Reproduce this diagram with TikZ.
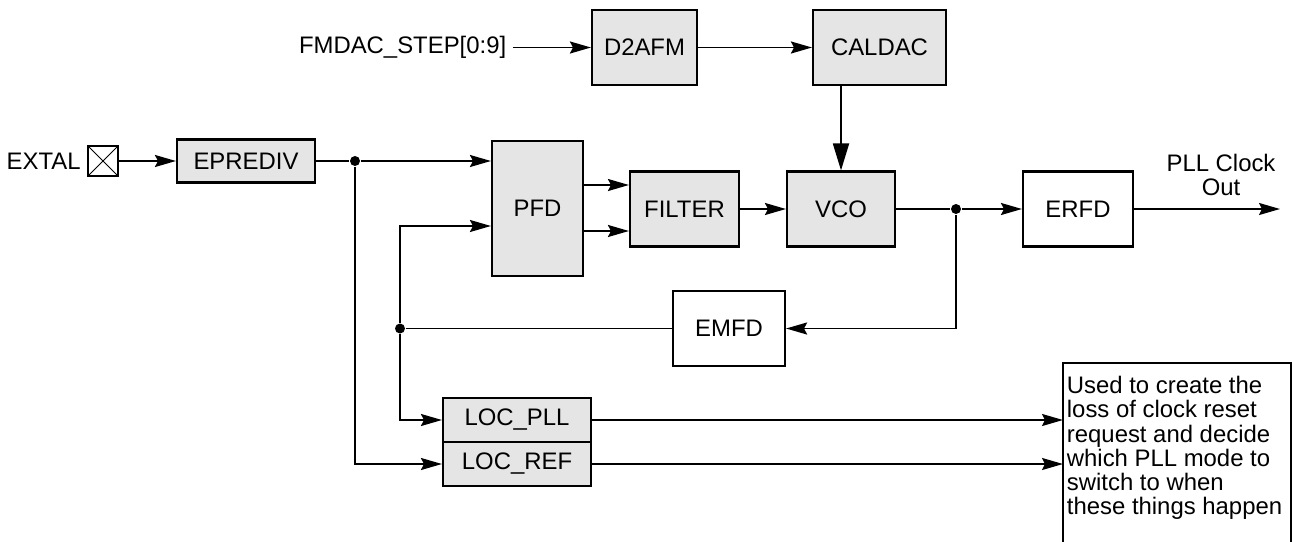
\documentclass[tikz,border=0pt]{standalone}
\usepackage{fontspec}
\setmainfont{Liberation Sans}
\usepackage{xcolor}
\definecolor{grisbloc}{HTML}{E5E5E5}
\usetikzlibrary{positioning, arrows.meta}

\begin{document}
\begin{tikzpicture}[x=0.02cm, y=-0.02cm, line width=1.05pt,
      font=\fontsize{13.6}{13.8}\selectfont,
      bloc/.style={draw, line width=1.2pt, inner sep=2pt},
      gris/.style={fill=grisbloc},
      taille/.style 2 args={minimum width=#1*0.02cm, minimum height=#2*0.02cm},
      fleche/.style={-{Stealth[length=4.2mm, width=2.4mm, inset=0.6mm]}},
      grossefleche/.style={-{Triangle[length=5.4mm, width=3.2mm]}},
      jonction/.style={circle, fill, inner sep=0pt, minimum size=0.2cm}]
    \clip (0,0) rectangle (1294,541);
    % entree quartz
    \node[draw, line width=0.7pt, taille={30}{30},
          path picture={\draw[line width=0.6pt]
            (path picture bounding box.south west) -- (path picture bounding box.north east)
            (path picture bounding box.north west) -- (path picture bounding box.south east);}]
          (pad) at (103,161) {};
    \node[left=0pt of pad] (extal) {EXTAL};
    % blocs
    \node[bloc, gris, taille={138}{43}] (eprediv) at (246,161) {EPREDIV};
    \node[bloc, gris, taille={91}{135}] (pfd) at (537.5,208.5) {PFD};
    \node[bloc, gris, taille={109}{75}] (filter) at (684.5,209) {FILTER};
    \node[bloc, gris, taille={108}{75}] (vco) at (841,209) {VCO};
    \node[bloc, taille={110}{75}] (erfd) at (1078,209) {ERFD};
    \node[bloc, gris, taille={105}{75}] (d2afm) at (644.5,47.5) {D2AFM};
    \node[bloc, gris, taille={133}{75}] (caldac) at (879.5,47.5) {CALDAC};
    \node[bloc, taille={112}{75}] (emfd) at (729,328.5) {EMFD};
    \node[bloc, gris, taille={148}{44}] (locpll) at (517,420) {LOC\_PLL};
    \node[bloc, gris, taille={148}{44}, below=-1.2pt of locpll] (locref) {LOC\_REF};
    \node[left=1.56cm of d2afm] (fmdac) {FMDAC\_STEP[0:9]};
    % jonctions
    \node[jonction] (j1) at (355,161) {};
    \node[jonction] (j2) at (400,328.5) {};
    \node[jonction] (j3) at (956,209) {};
    \coordinate (sortie) at (1280,209);
    \coordinate (bas) at (0,560);
    % liaisons
    \draw[fleche] (pad) -- (eprediv);
    \draw (eprediv) -- (j1);
    \draw[fleche] (j1) -- (j1 -| pfd.west);
    \draw[fleche] (j1) |- (locref);
    \draw[fleche] (j2) |- ([yshift=-0.35cm]pfd.west);
    \draw[fleche] (j2) |- (locpll);
    \draw (emfd) -- (j2);
    \draw[fleche] ([yshift=0.47cm]pfd.east) -- ([yshift=0.47cm]pfd.east -| filter.west);
    \draw[fleche] ([yshift=-0.45cm]pfd.east) -- ([yshift=-0.45cm]pfd.east -| filter.west);
    \draw[fleche] (filter) -- (vco);
    \draw[fleche] (fmdac) -- (d2afm);
    \draw[fleche] (d2afm) -- (caldac);
    \draw[grossefleche] (vco.north |- caldac.south) -- (vco.north);
    \draw (vco) -- (j3);
    \draw[fleche] (j3) -- (erfd);
    \draw[fleche] (j3) |- (emfd);
    \draw[fleche] (erfd) -- (sortie);
    \node[anchor=south, align=center] (pllout) at (1221,203) {PLL Clock\\Out};
    % remarque
    \node[anchor=north west, align=flush left, text width=4.4cm,
          inner xsep=0.06cm, inner ysep=7pt] (note) at (1063,363)
      {Used to create the\\loss of clock reset\\request and decide\\which PLL mode to\\switch to when\\these things happen};
    \draw[line width=1.2pt] (note.north west |- bas) -- (note.north west)
      -- (note.north east) -- (note.north east |- bas);
    \draw[fleche] (locpll) -- (locpll -| note.west);
    \draw[fleche] (locref) -- (locref -| note.west);
\end{tikzpicture}
\end{document}
